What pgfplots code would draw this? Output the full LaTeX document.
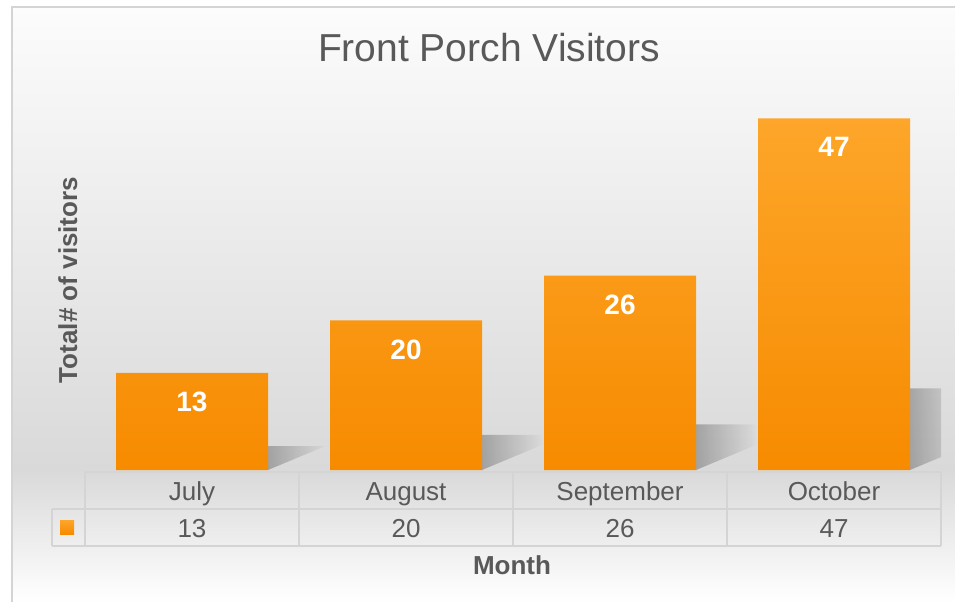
\documentclass[border=0pt]{standalone}
\usepackage{pgfplots}
\pgfplotsset{compat=1.18}
\usepackage{fontspec}
\setmainfont{Liberation Sans}
\usetikzlibrary{fadings}
\definecolor{txt}{RGB}{89,89,89}
\definecolor{bartop}{RGB}{253,166,42}
\definecolor{barbot}{RGB}{247,139,0}
\definecolor{bgtop}{RGB}{252,252,252}
\definecolor{bgmid}{RGB}{217,217,217}
\definecolor{gridc}{RGB}{212,212,212}
\tikzfading[name=shfade, left color=transparent!15, right color=transparent!100]
\newcommand\barshadow[3]{% #1 left x, #2 right x, #3 height
  \fill[black, opacity=0.3, path fading=shfade]
    (axis cs:#1,0) -- (axis cs:#2,3.4) -- (axis cs:#2,#3) -- (axis cs:#1,#3) -- cycle;}
\begin{document}
\begin{tikzpicture}[x=1pt,y=1pt]
\path[use as bounding box] (0pt,0pt) rectangle (955pt,-602pt);
\fill[white] (0pt,0pt) rectangle (955pt,-602pt);
\shade[top color=bgtop, bottom color=bgmid] (12pt,-7pt) rectangle (955pt,-470.5pt);
\shade[top color=bgmid, bottom color=white] (12pt,-470pt) rectangle (955pt,-602pt);
\draw[gridc, line width=1.2pt] (12pt,-602pt) -- (12pt,-7pt) -- (955pt,-7pt);

\begin{axis}[
  at={(85pt,-470pt)}, anchor=south west,
  scale only axis, width=856pt, height=374pt,
  xmin=-0.5, xmax=3.5, ymin=0, ymax=50,
  hide axis, ybar, bar width=152pt,
  nodes near coords={\pgfmathprintnumber[assume math mode=true]{\pgfplotspointmeta}},
  nodes near coords align={below},
  every node near coord/.append style={font=\bfseries\fontsize{28}{32}\selectfont, text=white, inner sep=0pt, yshift=-19pt},
]
\barshadow{0.355}{0.64}{3.2}
\barshadow{1.355}{1.64}{4.7}
\barshadow{2.355}{2.64}{6.1}
\barshadow{3.355}{3.64}{10.9}
\addplot[draw=none, top color=bartop, bottom color=barbot] coordinates {(0,13) (1,20) (2,26) (3,47)};
\end{axis}

% data table
\begin{scope}[gridc, line width=1.3pt]
\draw (85pt,-472pt) -- (941pt,-472pt);
\draw (52pt,-509pt) -- (941pt,-509pt);
\draw (52pt,-546pt) -- (941pt,-546pt);
\draw (52pt,-509pt) -- (52pt,-546pt);
\foreach \xx in {85,299,513,727,941} \draw (\xx pt,-472pt) -- (\xx pt,-546pt);
\end{scope}
\shade[top color=bartop, bottom color=barbot] (60pt,-520pt) rectangle (74pt,-534pt);
\begin{scope}[every node/.style={anchor=base, text=txt, font=\fontsize{26}{30}\selectfont, inner sep=0pt}]
\node at (192pt,-500pt) {July};
\node at (406pt,-500pt) {August};
\node at (620pt,-500pt) {September};
\node at (834pt,-500pt) {October};
\node at (192pt,-537pt) {13};
\node at (406pt,-537pt) {20};
\node at (620pt,-537pt) {26};
\node at (834pt,-537pt) {47};
\end{scope}

\node[anchor=base, text=txt, inner sep=0pt, font=\fontsize{39}{45}\selectfont] at (489pt,-62pt) {Front Porch Visitors};
\node[anchor=base, text=txt, inner sep=0pt, font=\bfseries\fontsize{26}{30}\selectfont] at (512pt,-574pt) {Month};
\node[anchor=base, rotate=90, text=txt, inner sep=0pt, font=\bfseries\fontsize{26}{30}\selectfont] at (77pt,-280pt) {Total\# of visitors};
\end{tikzpicture}
\end{document}
